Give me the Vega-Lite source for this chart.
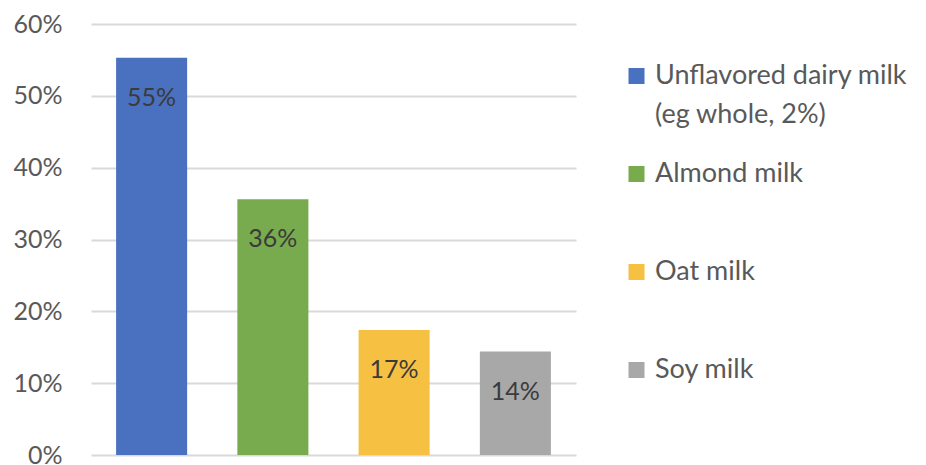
{
  "$schema": "https://vega.github.io/schema/vega-lite/v6.json",
  "autosize": {"type": "none"},
  "width": 485,
  "height": 431,
  "padding": {"left": 91, "top": 24, "right": 350, "bottom": 10},
  "background": "white",
  "data": {
    "values": [
      {"milk": "Unflavored dairy milk (eg whole, 2%)", "share": 0.553},
      {"milk": "Almond milk", "share": 0.356},
      {"milk": "Oat milk", "share": 0.174},
      {"milk": "Soy milk", "share": 0.144}
    ]
  },
  "encoding": {
    "x": {
      "field": "milk",
      "type": "nominal",
      "sort": null,
      "axis": null,
      "scale": {"paddingInner": 0.414, "paddingOuter": 0.207}
    },
    "y": {
      "field": "share",
      "type": "quantitative",
      "scale": {"domain": [0, 0.6], "nice": false},
      "axis": {
        "values": [0, 0.1, 0.2, 0.3, 0.4, 0.5, 0.6],
        "format": ".0%",
        "title": null,
        "domain": false,
        "ticks": false,
        "labelPadding": 29,
        "labelFont": "Lato",
        "labelFontSize": 25,
        "labelColor": "#595959",
        "gridColor": "#d9d9d9",
        "gridWidth": 2
      }
    }
  },
  "layer": [
    {
      "mark": {"type": "bar"},
      "encoding": {
        "color": {
          "field": "milk",
          "type": "nominal",
          "sort": null,
          "scale": {
            "domain": ["Unflavored dairy milk (eg whole, 2%)", "Almond milk", "Oat milk", "Soy milk"],
            "range": ["#4a70c0", "#78ab4e", "#f6c142", "#a8a8a8"]
          },
          "legend": {
            "title": null,
            "orient": "none",
            "legendX": 532,
            "legendY": 44,
            "padding": 0,
            "symbolType": "square",
            "symbolSize": 256,
            "symbolStrokeWidth": 0,
            "symbolOffset": 0,
            "labelOffset": 5,
            "labelFont": "Lato",
            "labelFontSize": 27,
            "labelColor": "#595959",
            "labelLimit": 400,
            "labelExpr": "datum.label == 'Unflavored dairy milk (eg whole, 2%)' ? ['Unflavored dairy milk', '(eg whole, 2%)'] : datum.label",
            "clipHeight": 16,
            "gridAlign": "all",
            "rowPadding": 32,
            "encode": {
              "labels": {
                "update": {
                  "baseline": {"value": "line-top"},
                  "lineHeight": {"value": 39},
                  "dy": {"value": -19}
                }
              }
            }
          }
        }
      }
    },
    {
      "mark": {
        "type": "text",
        "baseline": "middle",
        "dy": 40,
        "font": "Lato",
        "fontSize": 25,
        "color": "#3b3b3b"
      },
      "encoding": {
        "text": {"field": "share", "type": "quantitative", "format": ".0%"}
      }
    }
  ],
  "config": {"view": {"stroke": null}}
}
